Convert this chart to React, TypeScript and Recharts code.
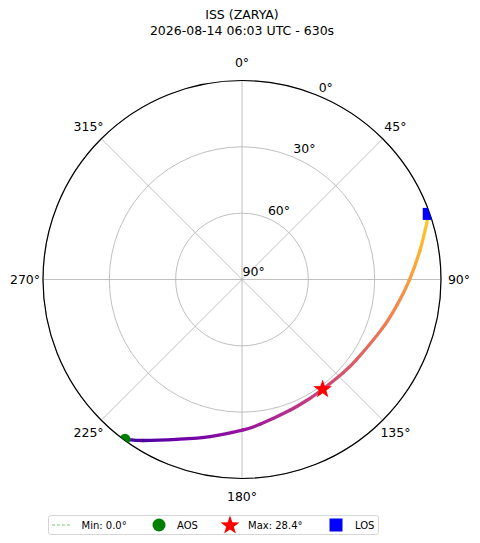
import React from "react";
import {
  RadarChart,
  Radar,
  PolarGrid,
  PolarAngleAxis,
  PolarRadiusAxis,
  Legend,
} from "recharts";

// pass track (azimuth clockwise from north, elevation deg)
const azimuth = [
  216.2, 211.5, 202.2, 191.5, 179.5, 172.9, 159.9, 150.2, 143.7, 132.5, 125.0,
  109.2, 99.5, 90.2, 80.8, 73.1, 70.6,
];
const elevation = [
  0.4, 4.6, 11.9, 17.5, 22.0, 24.0, 27.0, 28.1, 28.4, 27.8, 26.8, 22.8, 19.0,
  14.3, 8.5, 2.7, 0.7,
];
const azTicks = [0, 45, 90, 135, 180, 225, 270, 315];
const zenithTicks = [0, 30, 60, 90];
const minElevation = 0.0;
const satName = "ISS (ZARYA)";
const passInfo = "2026-08-14 06:03 UTC - 630s";

const W = 480;
const H = 543;
const CX = 242;
const CY = 279.5;
const R = 199;
const FONT = "DejaVu Sans, Verdana, sans-serif";

const data = azimuth.map((az, i) => ({
  az,
  el: elevation[i],
  zen: 90 - elevation[i],
}));
const maxEl = Math.max(...elevation);
const maxIdx = elevation.indexOf(maxEl);
const lastIdx = data.length - 1;

// plasma colormap stops
const plasma = [
  "#0d0887", "#41049d", "#6a00a8", "#8f0da4", "#b12a90", "#cc4778",
  "#e16462", "#f2844b", "#fca636", "#fcce25", "#f0f921",
];
const hexToRgb = (h: string) => [
  parseInt(h.slice(1, 3), 16),
  parseInt(h.slice(3, 5), 16),
  parseInt(h.slice(5, 7), 16),
];
const plasmaAt = (t: number) => {
  const v = Math.max(0, Math.min(1, t)) * (plasma.length - 1);
  const i = Math.min(Math.floor(v), plasma.length - 2);
  const f = v - i;
  const a = hexToRgb(plasma[i]);
  const b = hexToRgb(plasma[i + 1]);
  const c = a.map((x, k) => Math.round(x + (b[k] - x) * f));
  return `rgb(${c[0]},${c[1]},${c[2]})`;
};

const starPath = (x: number, y: number, r: number) => {
  const pts: string[] = [];
  for (let k = 0; k < 10; k++) {
    const rr = k % 2 === 0 ? r : r * 0.4;
    const a = (Math.PI / 5) * k - Math.PI / 2;
    pts.push(`${(x + rr * Math.cos(a)).toFixed(2)},${(y + rr * Math.sin(a)).toFixed(2)}`);
  }
  return `M${pts.join("L")}Z`;
};

const TrackShape = (props: any) => {
  const pts = (props.points || []) as { x: number; y: number }[];
  if (pts.length < 2) return <g />;
  const cum = [0];
  for (let i = 1; i < pts.length; i++) {
    cum.push(cum[i - 1] + Math.hypot(pts[i].x - pts[i - 1].x, pts[i].y - pts[i - 1].y));
  }
  const total = cum[cum.length - 1];
  const col = (i: number) => plasmaAt(0.1 + 0.8 * (cum[i] / total));
  const segs = [];
  for (let i = 0; i < pts.length - 1; i++) {
    const p0 = pts[Math.max(0, i - 1)];
    const p1 = pts[i];
    const p2 = pts[i + 1];
    const p3 = pts[Math.min(pts.length - 1, i + 2)];
    const c1x = p1.x + (p2.x - p0.x) / 6;
    const c1y = p1.y + (p2.y - p0.y) / 6;
    const c2x = p2.x - (p3.x - p1.x) / 6;
    const c2y = p2.y - (p3.y - p1.y) / 6;
    segs.push({
      d: `M${p1.x},${p1.y}C${c1x},${c1y} ${c2x},${c2y} ${p2.x},${p2.y}`,
      p1,
      p2,
      a: col(i),
      b: col(i + 1),
    });
  }
  return (
    <g>
      <defs>
        <clipPath id="sky">
          <circle cx={CX} cy={CY} r={R} />
        </clipPath>
        {segs.map((s, i) => (
          <linearGradient
            key={i}
            id={`seg${i}`}
            gradientUnits="userSpaceOnUse"
            x1={s.p1.x}
            y1={s.p1.y}
            x2={s.p2.x}
            y2={s.p2.y}
          >
            <stop offset="0" stopColor={s.a} />
            <stop offset="1" stopColor={s.b} />
          </linearGradient>
        ))}
      </defs>
      <g clipPath="url(#sky)">
        {segs.map((s, i) => (
          <path
            key={i}
            d={s.d}
            fill="none"
            stroke={`url(#seg${i})`}
            strokeWidth={3.3}
            strokeLinecap="round"
          />
        ))}
      </g>
    </g>
  );
};

const TrackDot = (props: any) => {
  const { cx, cy, index } = props;
  if (index === 0)
    return <circle key="aos" cx={cx} cy={cy} r={5.5} fill="#008000" clipPath="url(#sky)" />;
  if (index === maxIdx)
    return <path key="max" d={starPath(cx, cy, 9.8)} fill="#ff0000" />;
  if (index === lastIdx)
    return (
      <rect
        key="los"
        x={cx - 5.5}
        y={cy - 6}
        width={11}
        height={12}
        fill="#0000ff"
        clipPath="url(#sky)"
      />
    );
  return <g key={`d${index}`} />;
};

const AngleTick = (props: any) => {
  const { x, y, payload } = props;
  if (payload.value >= 360) return <g />;
  return (
    <text
      x={x}
      y={y}
      textAnchor="middle"
      dominantBaseline="central"
      fontSize={12.5}
      fontFamily={FONT}
      fill="#000"
    >
      {payload.value}°
    </text>
  );
};

const RadiusTick = (props: any) => {
  const { x, y, payload } = props;
  return (
    <text x={x + 0.5} y={y - 3.5} textAnchor="start" fontSize={12.5} fontFamily={FONT} fill="#000">
      {90 - payload.value}°
    </text>
  );
};

const LegendBox = () => (
  <svg width={331} height={20} style={{ display: "block" }}>
    <rect x={0.5} y={0.5} width={330} height={19} rx={2.5} fill="#fff" stroke="#d6d6d6" />
    <line x1={4} x2={24} y1={10} y2={10} stroke="#3cb043" strokeOpacity={0.7} strokeDasharray="3,2" />
    <text x={33.5} y={10} dominantBaseline="central" fontSize={10} fontFamily={FONT} fill="#000">
      {`Min: ${minElevation.toFixed(1)}°`}
    </text>
    <circle cx={111} cy={10} r={6.5} fill="#008000" />
    <text x={129} y={10} dominantBaseline="central" fontSize={10} fontFamily={FONT} fill="#000">
      AOS
    </text>
    <path d={starPath(182, 10.5, 10)} fill="#ff0000" />
    <text x={200} y={10} dominantBaseline="central" fontSize={10} fontFamily={FONT} fill="#000">
      {`Max: ${maxEl.toFixed(1)}°`}
    </text>
    <rect x={281.5} y={3.5} width={13} height={13} fill="#0000ff" />
    <text x={307} y={10} dominantBaseline="central" fontSize={10} fontFamily={FONT} fill="#000">
      LOS
    </text>
  </svg>
);

export default function App() {
  return (
    <div
      style={{
        position: "absolute",
        left: 0,
        top: 0,
        width: W,
        height: H,
        background: "#fff",
        fontFamily: FONT,
      }}
    >
      <div
        style={{
          position: "absolute",
          left: 2,
          top: 7,
          width: W,
          textAlign: "center",
          fontSize: 12.5,
          lineHeight: "16.4px",
          color: "#000",
        }}
      >
        <div>{satName}</div>
        <div>{passInfo}</div>
      </div>
      <RadarChart
        width={W}
        height={H}
        data={data}
        cx={CX}
        cy={CY}
        outerRadius={R}
        margin={{ top: 0, right: 0, bottom: 0, left: 0 }}
        startAngle={90}
        endAngle={-270}
      >
        <PolarGrid gridType="circle" stroke="#b0b0b0" strokeWidth={0.8} />
        <PolarAngleAxis
          dataKey="az"
          type="number"
          domain={[0, 360]}
          ticks={azTicks}
          tickSize={18}
          tickLine={false}
          axisLineType="circle"
          axisLine={{ stroke: "#000", strokeWidth: 1.2 }}
          tick={AngleTick}
        />
        <PolarRadiusAxis
          type="number"
          domain={[0, 90]}
          ticks={zenithTicks}
          angle={67.5}
          axisLine={false}
          tick={RadiusTick}
        />
        <Radar
          dataKey="zen"
          shape={TrackShape}
          dot={TrackDot}
          isAnimationActive={false}
        />
        <Legend
          content={LegendBox}
          wrapperStyle={{ left: 48, top: 515, width: 331, height: 20 }}
        />
      </RadarChart>
    </div>
  );
}
